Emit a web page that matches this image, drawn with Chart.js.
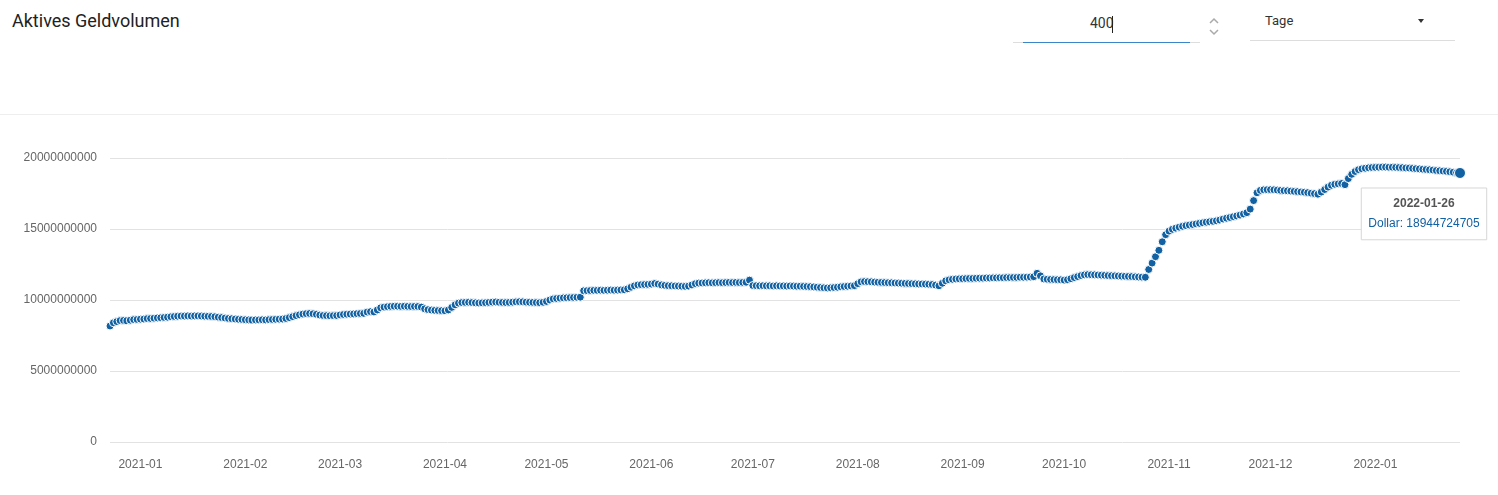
<!DOCTYPE html>
<html>
<head>
<meta charset="utf-8">
<title>Aktives Geldvolumen</title>
<script src="https://cdn.jsdelivr.net/npm/chart.js@4/dist/chart.umd.min.js"></script>
<style>
  html, body { margin: 0; padding: 0; background: #fff; }
  body { width: 1498px; height: 495px; position: relative; overflow: hidden; font-family: Roboto, Arial, sans-serif; }
  .title { position: absolute; left: 12px; top: 10px; font-size: 18px; color: #222; }
  .amount { position: absolute; left: 1013px; top: 12px; width: 187px; height: 30px; border-bottom: 1px solid #ddd; }
  .amount .val { position: absolute; left: 77px; top: 3px; font-size: 14px; color: #333; }
  .amount .cursor { position: absolute; left: 99px; top: 4px; width: 1px; height: 17px; background: #222; }
  .amount .focus { position: absolute; left: 10px; width: 167px; bottom: -1px; height: 1px; background: #3a86c8; }
  .spin { position: absolute; left: 1208px; top: 16px; }
  .unit { position: absolute; left: 1250px; top: 10px; width: 205px; height: 30px; border-bottom: 1px solid #ddd; }
  .unit .val { position: absolute; left: 15px; top: 3px; font-size: 13px; color: #333; }
  .unit .caret { position: absolute; left: 168px; top: 9px; width: 0; height: 0; border-left: 3.5px solid transparent; border-right: 3.5px solid transparent; border-top: 4px solid #333; }
  .sep { position: absolute; left: 0; right: 0; top: 114px; height: 1px; background: #eee; }
  #wrap { position: absolute; left: 0; top: 115px; width: 1498px; height: 380px; }
</style>
</head>
<body>
<div class="title">Aktives Geldvolumen</div>
<div class="amount"><div class="val">400</div><div class="cursor"></div><div class="focus"></div></div>
<svg class="spin" width="12" height="22" viewBox="0 0 12 22">
  <polyline points="2,7 6,3 10,7" fill="none" stroke="#aaa" stroke-width="1.5"/>
  <polyline points="2,14 6,18 10,14" fill="none" stroke="#aaa" stroke-width="1.5"/>
</svg>
<div class="unit"><div class="val">Tage</div><div class="caret"></div></div>
<div class="sep"></div>
<div id="wrap"><canvas id="chart"></canvas></div>

<script>
// daily values in million dollar, one array per month (2020-12-23 .. 2022-01-26)
const dec2020 = [8170, 8400, 8480, 8550, 8560, 8540, 8580, 8620, 8630];
const jan2021 = [8650, 8660, 8690, 8700, 8720, 8740, 8750, 8770, 8790, 8820,
                 8840, 8860, 8870, 8870, 8880, 8870, 8880, 8880, 8870, 8860,
                 8850, 8840, 8820, 8790, 8760, 8730, 8700, 8680, 8660, 8640, 8630];
const feb2021 = [8610, 8600, 8590, 8600, 8600, 8610, 8600, 8620, 8630, 8640,
                 8650, 8660, 8700, 8760, 8830, 8900, 8960, 9010, 9040, 9050,
                 9030, 8990, 8940, 8910, 8900, 8890, 8900, 8910];
const mar2021 = [8950, 8980, 9000, 9010, 9020, 9040, 9050, 9060, 9150, 9180,
                 9160, 9300, 9450, 9500, 9530, 9550, 9560, 9560, 9550, 9560,
                 9550, 9540, 9550, 9540, 9500, 9380, 9320, 9290, 9270, 9260, 9250];
const apr2021 = [9240, 9300, 9480, 9660, 9780, 9820, 9830, 9840, 9820, 9800,
                 9790, 9800, 9810, 9830, 9850, 9860, 9840, 9830, 9820, 9830,
                 9850, 9870, 9880, 9870, 9850, 9840, 9830, 9820, 9810, 9840];
const may2021 = [9900, 10000, 10080, 10110, 10130, 10150, 10160, 10170, 10180, 10190,
                 10200, 10650, 10660, 10670, 10680, 10680, 10690, 10680, 10690, 10700,
                 10690, 10700, 10710, 10720, 10790, 10900, 11000, 11060, 11080, 11090, 11100];
const jun2021 = [11120, 11160, 11120, 11060, 11030, 11010, 11000, 10990, 10980, 10970,
                 10960, 10980, 11060, 11150, 11190, 11200, 11210, 11220, 11210, 11220,
                 11230, 11220, 11230, 11240, 11230, 11240, 11230, 11240, 11250, 11400];
const jul2021 = [11020, 11010, 11000, 11010, 11000, 11000, 10990, 11000, 10990, 10990,
                 10980, 10990, 10980, 10970, 10970, 10960, 10950, 10940, 10920, 10900,
                 10880, 10860, 10850, 10860, 10880, 10900, 10930, 10950, 10970, 10990, 11010];
const aug2021 = [11150, 11280, 11300, 11290, 11280, 11260, 11250, 11240, 11230, 11220,
                 11210, 11200, 11190, 11180, 11170, 11160, 11150, 11140, 11130, 11130,
                 11120, 11110, 11090, 11050, 11000, 11180, 11350, 11420, 11460, 11480, 11490];
const sep2021 = [11500, 11510, 11520, 11520, 11530, 11540, 11540, 11550, 11550, 11560,
                 11560, 11570, 11570, 11580, 11580, 11590, 11590, 11600, 11600, 11610,
                 11620, 11640, 11880, 11700, 11480, 11460, 11450, 11440, 11430, 11420];
const oct2021 = [11400, 11430, 11500, 11580, 11650, 11720, 11770, 11790, 11780, 11770,
                 11760, 11750, 11740, 11720, 11710, 11700, 11690, 11680, 11670, 11660,
                 11650, 11630, 11620, 11610, 11600, 12150, 12600, 13050, 13500, 14100, 14600];
const nov2021 = [14850, 14980, 15060, 15130, 15190, 15240, 15280, 15320, 15360, 15400,
                 15440, 15480, 15510, 15540, 15580, 15630, 15700, 15760, 15810, 15870,
                 15920, 15980, 16060, 16150, 16400, 17000, 17550, 17720, 17760, 17770];
const dec2021 = [17770, 17760, 17740, 17720, 17700, 17690, 17670, 17650, 17630, 17610,
                 17590, 17560, 17520, 17490, 17450, 17600, 17780, 17950, 18080, 18150,
                 18180, 18200, 18120, 18550, 18850, 19050, 19180, 19240, 19280, 19310, 19330];
const jan2022 = [19340, 19350, 19360, 19360, 19350, 19350, 19340, 19330, 19320, 19300,
                 19290, 19270, 19250, 19230, 19210, 19190, 19170, 19150, 19120, 19100,
                 19080, 19060, 19030, 19000, 18970, 18944.724705];

const firstDay = '2020-12-23';
const yTicks = [0, 5000000000, 10000000000, 15000000000, 20000000000];

const millions = [].concat(dec2020, jan2021, feb2021, mar2021, apr2021, may2021, jun2021,
  jul2021, aug2021, sep2021, oct2021, nov2021, dec2021, jan2022);
const values = millions.map(v => Math.round(v * 1e6));

const days = [];
const d = new Date(firstDay + 'T00:00:00Z');
for (let i = 0; i < values.length; i++) {
  days.push(d.toISOString().slice(0, 10));
  d.setUTCDate(d.getUTCDate() + 1);
}

const blue = '#1161a3';

Chart.Tooltip.positioners.belowLeft = function (items) {
  if (!items.length) return false;
  const el = items[0].element;
  return { x: el.x - 36, y: el.y + 15 };
};

Chart.defaults.font.family = '"Liberation Sans", Arial, sans-serif';
Chart.defaults.font.size = 12;
Chart.defaults.color = '#666';

const chart = new Chart(document.getElementById('chart'), {
  type: 'line',
  data: {
    labels: days,
    datasets: [{
      label: 'Dollar',
      data: values,
      showLine: false,
      pointRadius: 4,
      pointBorderWidth: 1,
      pointBackgroundColor: blue,
      pointBorderColor: '#fff',
      pointHoverRadius: 5.5,
      pointHoverBorderWidth: 1,
      pointHoverBackgroundColor: blue,
      pointHoverBorderColor: '#fff'
    }]
  },
  options: {
    responsive: true,
    maintainAspectRatio: false,
    animation: false,
    events: [],
    layout: { padding: { top: 43, right: 38, left: 0, bottom: 0 } },
    plugins: {
      legend: { display: false },
      tooltip: {
        position: 'belowLeft',
        xAlign: 'center',
        yAlign: 'top',
        caretSize: 0,
        caretPadding: 0,
        cornerRadius: 0,
        backgroundColor: '#fff',
        borderColor: '#d6d6d6',
        borderWidth: 1,
        displayColors: false,
        padding: { x: 7, y: 8.5 },
        titleAlign: 'center',
        bodyAlign: 'center',
        titleColor: '#555',
        bodyColor: blue,
        titleFont: { weight: 'bold', size: 12 },
        bodyFont: { size: 12 },
        titleMarginBottom: 6,
        callbacks: {
          title: items => items[0].label,
          label: item => item.dataset.label + ': ' + item.raw
        }
      }
    },
    scales: {
      x: {
        grid: { display: false },
        border: { display: false },
        ticks: {
          autoSkip: false,
          maxRotation: 0,
          padding: 7,
          callback: function (v, i) {
            const s = days[i];
            return s.endsWith('-01') ? s.slice(0, 7) : null;
          }
        },
        afterFit: s => { s.height = 53; }
      },
      y: {
        min: 0,
        max: 20000000000,
        grid: { color: '#e2e2e2', drawTicks: false },
        border: { display: false },
        afterBuildTicks: s => { s.ticks = yTicks.map(v => ({ value: v })); },
        ticks: { padding: 13, callback: v => String(v) },
        afterFit: s => { s.width = 110; }
      }
    }
  }
});

const last = [{ datasetIndex: 0, index: values.length - 1 }];
chart.setActiveElements(last);
chart.tooltip.setActiveElements(last, { x: 0, y: 0 });
chart.update();
</script>
</body>
</html>
